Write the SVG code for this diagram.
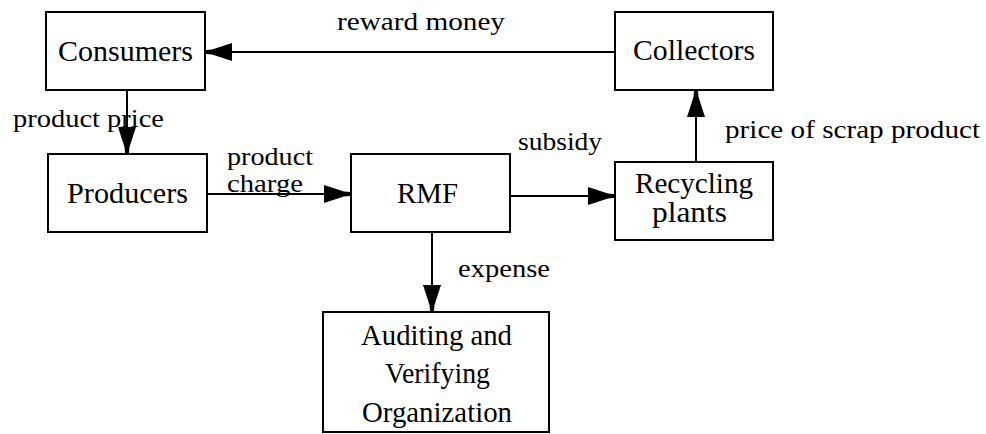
<svg xmlns="http://www.w3.org/2000/svg" width="986" height="434" viewBox="0 0 986 434">
<style>
.box{fill:#fff;stroke:#000;stroke-width:2}
.edge{stroke:#000;stroke-width:2;fill:none;marker-end:url(#arr)}
</style>
<defs>
<marker id="arr" markerUnits="userSpaceOnUse" viewBox="0 -10 30 20" refX="28" refY="0" markerWidth="30" markerHeight="20" orient="auto">
<path d="M28,-2 L22,-2.5 L2,-9 L2,9 L22,2.5 L28,2 Z" fill="#000"/>
</marker>
</defs>
<rect width="986" height="434" fill="#fff"/>
<g id="connectors">
<line class="edge" x1="615" y1="52" x2="206" y2="52"/>
<line class="edge" x1="127" y1="90" x2="127" y2="153"/>
<line class="edge" x1="207" y1="194" x2="350" y2="194"/>
<line class="edge" x1="510" y1="196" x2="614" y2="196"/>
<line class="edge" x1="696" y1="162" x2="696" y2="91"/>
<line class="edge" x1="432" y1="232" x2="432" y2="311"/>
<g font-family="Liberation Serif, serif" font-size="25" fill="#000">
<text x="337" y="30" textLength="168" lengthAdjust="spacingAndGlyphs">reward money</text>
<text x="13" y="127" textLength="151" lengthAdjust="spacingAndGlyphs">product price</text>
<text x="227" y="165" textLength="86" lengthAdjust="spacingAndGlyphs">product</text>
<text x="227" y="192" textLength="76" lengthAdjust="spacingAndGlyphs">charge</text>
<text x="518" y="150" textLength="84" lengthAdjust="spacingAndGlyphs">subsidy</text>
<text x="725" y="138" textLength="255" lengthAdjust="spacingAndGlyphs">price of scrap product</text>
<text x="458" y="277" textLength="92" lengthAdjust="spacingAndGlyphs">expense</text>
</g>
</g>
<g font-family="Liberation Serif, serif" font-size="29" fill="#000">
<g id="consumers">
<rect class="box" x="46" y="12" width="159" height="78"/>
<text x="58" y="61" textLength="135" lengthAdjust="spacingAndGlyphs">Consumers</text>
</g>
<g id="producers">
<rect class="box" x="48" y="154" width="159" height="78"/>
<text x="67" y="203" textLength="121" lengthAdjust="spacingAndGlyphs">Producers</text>
</g>
<g id="rmf">
<rect class="box" x="351" y="154" width="159" height="78"/>
<text x="397" y="203" textLength="61" lengthAdjust="spacingAndGlyphs">RMF</text>
</g>
<g id="collectors">
<rect class="box" x="615" y="12" width="158" height="78"/>
<text x="633" y="60" textLength="122" lengthAdjust="spacingAndGlyphs">Collectors</text>
</g>
<g id="recycling">
<rect class="box" x="615" y="162" width="158" height="78"/>
<text x="635" y="193" textLength="118" lengthAdjust="spacingAndGlyphs">Recycling</text>
<text x="652" y="222" textLength="75" lengthAdjust="spacingAndGlyphs">plants</text>
</g>
<g id="auditing">
<rect class="box" x="323" y="312" width="226" height="120"/>
<text x="361" y="345" textLength="151" lengthAdjust="spacingAndGlyphs">Auditing and</text>
<text x="385" y="383" textLength="105" lengthAdjust="spacingAndGlyphs">Verifying</text>
<text x="362" y="422" textLength="150" lengthAdjust="spacingAndGlyphs">Organization</text>
</g>
</g>
</svg>
